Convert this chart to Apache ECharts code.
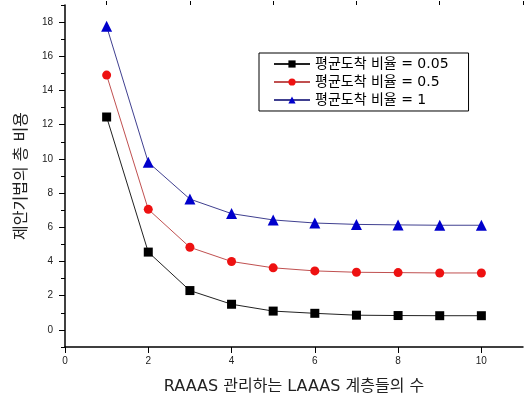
<!DOCTYPE html>
<html>
<head>
<meta charset="utf-8">
<script src="https://cdn.jsdelivr.net/npm/echarts@6/dist/echarts.min.js"></script>
<style>
  html, body { margin: 0; padding: 0; background: #fff; }
  #chart { width: 526px; height: 400px; }
</style>
</head>
<body>
<div id="chart"></div>
<script>
// Number of LAAAS layers managed by a RAAAS
const layers = [1, 2, 3, 4, 5, 6, 7, 8, 9, 10];
// Total cost of the proposed scheme for each mean arrival ratio
const cost005 = [12.45, 4.55, 2.3, 1.5, 1.1, 0.97, 0.86, 0.84, 0.83, 0.83];
const cost05 = [14.9, 7.05, 4.83, 4.0, 3.63, 3.45, 3.37, 3.35, 3.33, 3.33];
const cost1 = [17.75, 9.8, 7.65, 6.8, 6.43, 6.25, 6.17, 6.14, 6.12, 6.12];
const seriesNames = ['평균도착 비율 = 0.05', '평균도착 비율 = 0.5', '평균도착 비율 = 1'];
// Tick positions
const yMajor = [0, 2, 4, 6, 8, 10, 12, 14, 16, 18];
const yMinor = [-1, 1, 3, 5, 7, 9, 11, 13, 15, 17, 19];
const xMajor = [0, 2, 4, 6, 8, 10];
const xMinor = [1, 3, 5, 7, 9, 11];

const font = '"DejaVu Sans", "Noto Sans CJK KR", sans-serif';
const chart = echarts.init(document.getElementById('chart'));

const grid = { left: 65, right: 3, top: 5, bottom: 53 };

function pairs(vals) { return layers.map((x, i) => [x, vals[i]]); }

const baseX = { type: 'value', min: 0, max: 11, gridIndex: 0, splitLine: { show: false } };
const baseY = { type: 'value', min: -1, max: 19, gridIndex: 0, splitLine: { show: false } };

chart.setOption({
  animation: false,
  backgroundColor: '#fff',
  textStyle: { fontFamily: font },
  grid: grid,
  xAxis: [
    Object.assign({}, baseX, {
      name: 'RAAAS 관리하는 LAAAS 계층들의 수',
      nameLocation: 'middle', nameGap: 32,
      nameTextStyle: { fontSize: 16, color: '#222', fontFamily: font },
      axisLine: { onZero: false, lineStyle: { color: '#000', width: 1.5 } },
      axisTick: { customValues: xMajor, length: 6, lineStyle: { color: '#000' } },
      axisLabel: { customValues: xMajor, fontSize: 10, color: '#222', margin: 9, fontFamily: 'Liberation Sans' }
    }),
    Object.assign({}, baseX, {
      axisLine: { show: false, onZero: false },
      axisTick: { customValues: xMinor, length: 4, lineStyle: { color: '#000' } },
      axisLabel: { show: false }
    })
  ],
  yAxis: [
    Object.assign({}, baseY, {
      name: '제안기법의 총 비용',
      nameLocation: 'middle', nameGap: 35,
      nameTextStyle: { fontSize: 16, color: '#222', fontFamily: font },
      axisLine: { show: true, onZero: false, lineStyle: { color: '#000', width: 1.5 } },
      axisTick: { show: true, customValues: yMajor, length: 6, lineStyle: { color: '#000' } },
      axisLabel: { customValues: yMajor, fontSize: 10, color: '#222', margin: 12, fontFamily: 'Liberation Sans' }
    }),
    Object.assign({}, baseY, {
      position: 'left',
      axisLine: { show: false, onZero: false },
      axisTick: { show: true, customValues: yMinor, length: 4, lineStyle: { color: '#000' } },
      axisLabel: { show: false }
    })
  ],
  legend: {
    orient: 'vertical',
    left: 259, top: 53,
    padding: [4, 20, 4, 14],
    borderColor: '#000', borderWidth: 1,
    itemWidth: 36, itemHeight: 9, itemGap: 4,
    textStyle: { fontSize: 14, color: '#000', fontFamily: font },
    data: seriesNames
  },
  series: [
    {
      name: seriesNames[0], type: 'line', data: pairs(cost005),
      symbol: 'rect', symbolSize: 9,
      lineStyle: { color: '#222', width: 1 },
      itemStyle: { color: '#000' }
    },
    {
      name: seriesNames[1], type: 'line', data: pairs(cost05),
      symbol: 'circle', symbolSize: 9,
      lineStyle: { color: '#c05050', width: 1 },
      itemStyle: { color: '#ee1111' }
    },
    {
      name: seriesNames[2], type: 'line', data: pairs(cost1),
      symbol: 'triangle', symbolSize: 11,
      lineStyle: { color: '#404090', width: 1 },
      itemStyle: { color: '#0000cc' }
    }
  ]
});
</script>
</body>
</html>
